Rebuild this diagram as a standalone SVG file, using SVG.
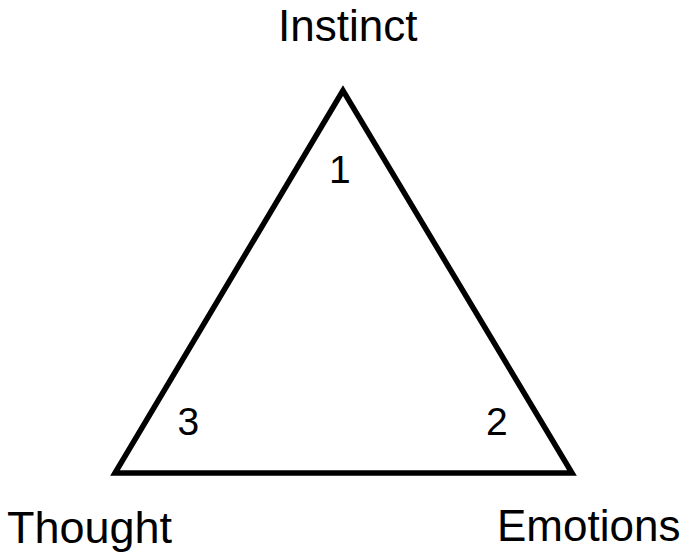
<svg xmlns="http://www.w3.org/2000/svg" width="689" height="553" viewBox="0 0 689 553">
<style>
.lbl{font-family:"Liberation Sans",Arial,sans-serif;font-size:44px;fill:#000}
.num{font-family:"Liberation Sans",Arial,sans-serif;font-size:39px;fill:#000}
.tri{fill:none;stroke:#000;stroke-width:5.5;stroke-linejoin:miter}
</style>
<rect width="689" height="553" fill="#fff"/>
<g id="connectors">
<polygon class="tri" points="343,90.5 115,473 572,473"/>
</g>
<g id="instinct"><text class="lbl" x="278" y="41">Instinct</text></g>
<g id="thought"><text class="lbl" x="7" y="543" style="font-size:45px">Thought</text></g>
<g id="emotions"><text class="lbl" x="497" y="541">Emotions</text></g>
<g id="n1"><text class="num" x="329" y="183">1</text></g>
<g id="n2"><text class="num" x="486" y="435">2</text></g>
<g id="n3"><text class="num" x="177.5" y="435">3</text></g>
</svg>
